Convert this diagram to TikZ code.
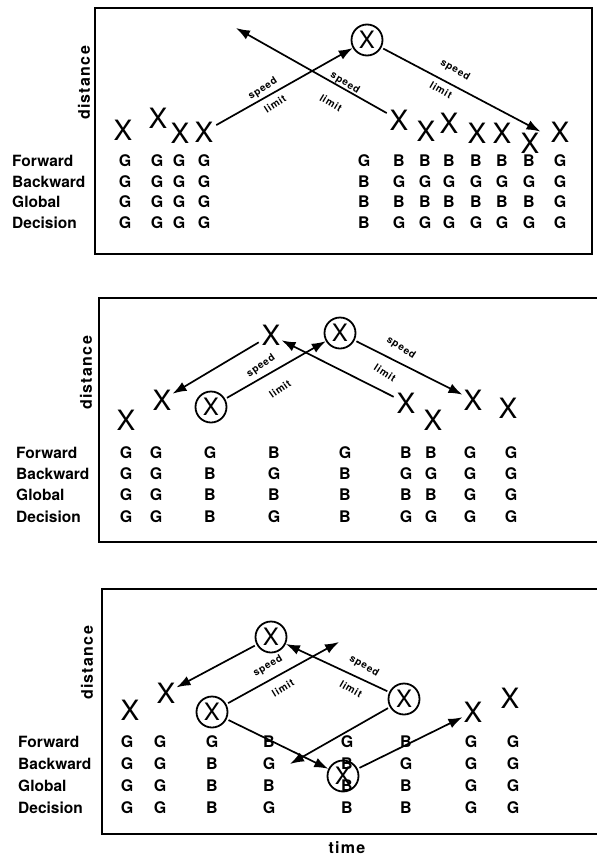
\documentclass[tikz,border=0pt]{standalone}
\usepackage{fontspec}
\setmainfont{TeX Gyre Heros}
\newfontfamily\widefont[LetterSpace=8]{TeX Gyre Heros}
\usetikzlibrary{arrows.meta}

\begin{document}
\begin{tikzpicture}[x=1pt, y=-1pt,
    box/.style={line width=1.6pt},
    xmark/.style={inner sep=1pt, font=\fontsize{28}{28}\selectfont},
    cxmark/.style={circle, draw, line width=1.8pt, inner sep=0pt, minimum size=31pt,
        font=\fontsize{24}{24}\selectfont},
    gb/.style={font=\bfseries\fontsize{16}{16}\selectfont},
    rowlab/.style={anchor=west, inner sep=0pt, font=\bfseries\fontsize{15.5}{15.5}\selectfont},
    axlab/.style={font=\widefont\bfseries\fontsize{16}{16}\selectfont},
    sl/.style={inner sep=0pt, font=\widefont\bfseries\fontsize{10}{10}\selectfont},
    arr/.style={line width=1.7pt, -{Latex[length=14pt,width=10pt]}, shorten <=2pt}]
    \useasboundingbox (0,0) rectangle (597,857);

    % --- Top panel ---
    \draw[box] (95,8) rectangle (592,254);
    \node[axlab, rotate=90] (p1dist) at (84,83) {distance};
    \foreach \t/\y [count=\i] in {Forward/161, Backward/182, Global/202, Decision/223}
        \node[rowlab] (p1r\i) at (12,\y) {\t};
    \foreach \x/\a/\b/\c/\d [count=\i] in {125/G/G/G/G, 157/G/G/G/G, 179/G/G/G/G, 204/G/G/G/G,
            364/G/B/B/B, 399/B/G/B/G, 425/B/G/B/G, 449/B/G/B/G, 476/B/G/B/G, 502/B/G/B/G,
            529/B/G/B/G, 560/G/G/G/G} {
        \node[gb] (p1a\i) at (\x,161) {\a};
        \node[gb] (p1b\i) at (\x,182) {\b};
        \node[gb] (p1c\i) at (\x,202) {\c};
        \node[gb] (p1d\i) at (\x,223) {\d};
    }
    \foreach \x/\y [count=\i] in {123/130, 158/118, 180/133, 204/132, 399/120, 426/131,
            449/123, 477/133, 502/133, 530/143, 560/132}
        \node[xmark] (p1x\i) at (\x,\y) {X};
    \node[cxmark] (p1cx) at (367,40) {X};
    \coordinate (p1end) at (236,28);

    \draw[arr] (p1x4) -- (p1cx);
    \draw[arr] (p1x5) -- (p1end);
    \draw[arr] (p1cx) -- (p1x10.north east);
    \node[sl, rotate=33] (p1s1) at (263,89) {speed};
    \node[sl, rotate=33] (p1l1) at (275,104) {limit};
    \node[sl, rotate=-31] (p1s2) at (345,83) {speed};
    \node[sl, rotate=-31] (p1l2) at (331,103) {limit};
    \node[sl, rotate=-30] (p1s3) at (455,70) {speed};
    \node[sl, rotate=-30] (p1l3) at (441,90) {limit};

    % --- Middle panel ---
    \draw[box] (597,298) -- (99,298) -- (99,542) -- (597,542);
    \node[axlab, rotate=90] (p2dist) at (86,373) {distance};
    \foreach \t/\y [count=\i] in {Forward/453, Backward/474, Global/495, Decision/517}
        \node[rowlab] (p2r\i) at (16,\y) {\t};
    \foreach \x/\a/\b/\c/\d [count=\i] in {126/G/G/G/G, 156/G/G/G/G, 210/G/B/B/B, 274/B/G/B/G,
            345/G/B/B/B, 406/B/G/B/G, 431/B/G/B/G, 470/G/G/G/G, 511/G/G/G/G} {
        \node[gb] (p2a\i) at (\x,453) {\a};
        \node[gb] (p2b\i) at (\x,474) {\b};
        \node[gb] (p2c\i) at (\x,495) {\c};
        \node[gb] (p2d\i) at (\x,517) {\d};
    }
    \node[xmark] (p2xa) at (126,420) {X};
    \node[xmark] (p2xb) at (162,400) {X};
    \node[cxmark] (p2cc) at (211,407) {X};
    \node[xmark] (p2xd) at (271,335) {X};
    \node[cxmark] (p2ce) at (340,333) {X};
    \node[xmark] (p2xf) at (406,403) {X};
    \node[xmark] (p2xg) at (433,420) {X};
    \node[xmark] (p2xh) at (473,400) {X};
    \node[xmark] (p2xi) at (508,408) {X};

    \draw[arr] (p2xd) -- (p2xb);
    \draw[arr] (p2cc) -- (p2ce);
    \draw[arr] (p2xf) -- (p2xd);
    \draw[arr] (p2ce) -- (p2xh);
    \node[sl, rotate=35] (p2s1) at (261,366) {speed};
    \node[sl, rotate=35] (p2l1) at (280,389) {limit};
    \node[sl, rotate=-33] (p2s2) at (401,348) {speed};
    \node[sl, rotate=-33] (p2l2) at (385,373) {limit};

    % --- Bottom panel ---
    \draw[box] (597,589) -- (102,589) -- (102,834) -- (597,834);
    \node[axlab, rotate=90] (p3dist) at (87,663) {distance};
    \node[axlab] (p3time) at (347,848) {time};
    \foreach \t/\y [count=\i] in {Forward/742, Backward/764, Global/786, Decision/808}
        \node[rowlab] (p3r\i) at (18,\y) {\t};
    \foreach \x/\a/\b/\c/\d [count=\i] in {127/G/G/G/G, 160/G/G/G/G, 212/G/B/B/B, 269/B/G/B/G,
            347/G/B/B/B, 406/B/G/B/B, 471/G/G/G/G, 513/G/G/G/G} {
        \node[gb] (p3a\i) at (\x,742) {\a};
        \node[gb] (p3b\i) at (\x,764) {\b};
        \node[gb] (p3c\i) at (\x,786) {\c};
        \node[gb] (p3d\i) at (\x,808) {\d};
    }
    \node[xmark] (p3xa) at (130,710) {X};
    \node[xmark] (p3xb) at (166,693) {X};
    \node[cxmark] (p3cc) at (212,712) {X};
    \node[cxmark] (p3cd) at (271,637) {X};
    \node[cxmark] (p3ce) at (404,699) {X};
    \node[cxmark] (p3cf) at (343,776) {X};
    \node[xmark] (p3xg) at (473,712) {X};
    \node[xmark] (p3xh) at (510,698) {X};
    \coordinate (p3end1) at (339,642);
    \coordinate (p3end2) at (290,764);

    \draw[arr] (p3cd) -- (p3xb);
    \draw[arr] (p3cc) -- (p3end1);
    \draw[arr] (p3ce) -- (p3cd);
    \draw[arr] (p3cc) -- (p3cf);
    \draw[arr] (p3ce) -- (p3end2);
    \draw[arr] (p3cf) -- (p3xg);
    \node[sl, rotate=31] (p3s1) at (268,666) {speed};
    \node[sl, rotate=31] (p3l1) at (283,688) {limit};
    \node[sl, rotate=-30] (p3s2) at (364,666) {speed};
    \node[sl, rotate=-30] (p3l2) at (351,689) {limit};
\end{tikzpicture}
\end{document}
